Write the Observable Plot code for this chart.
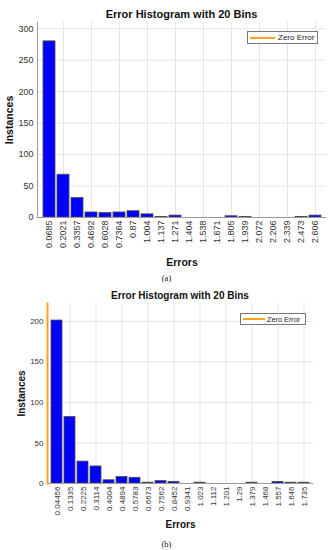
<!DOCTYPE html>
<html><head><meta charset="utf-8">
<script src="https://cdn.jsdelivr.net/npm/d3@7"></script>
<script src="https://cdn.jsdelivr.net/npm/@observablehq/plot@0.6"></script>
<style>
body{margin:0;background:#fff;}
#wrap{position:relative;width:333px;height:550px;font-family:"Liberation Sans",Arial,sans-serif;overflow:hidden;}
#wrap svg{position:absolute;left:0;}
.abs{position:absolute;}
.title{font-weight:bold;text-align:center;color:#111;white-space:nowrap;}
.cap{font-family:"Liberation Serif","Times New Roman",serif;text-align:center;width:333px;left:0;color:#111;font-size:8.5px;line-height:12px;}
.legend{background:#fff;border:1px solid #777;display:flex;align-items:center;white-space:nowrap;color:#222;box-sizing:border-box;overflow:hidden;}
.legend .ln{display:inline-block;height:2px;background:#ffa31a;flex:none;}
svg g[aria-label="x-axis label"] text, svg g[aria-label="y-axis label"] text{font-weight:bold;fill:#111;}
svg.chartA g[aria-label="x-axis label"] text, svg.chartA g[aria-label="y-axis label"] text{font-size:10.5px;}
svg.chartB g[aria-label="x-axis label"] text, svg.chartB g[aria-label="y-axis label"] text{font-size:10px;}
</style>
</head><body>
<div id="wrap"></div>
<script>
// ---- chart (a) data ----
const labelsA = ["0.0685","0.2021","0.3357","0.4692","0.6028","0.7364","0.87","1.004","1.137","1.271","1.404","1.538","1.671","1.805","1.939","2.072","2.206","2.339","2.473","2.606"];
const countsA = [280,68,31,8,7,8,10,5,1,3,0,0,0,2,1,0,0,0,1,3];
const yTicksA = [0,50,100,150,200,250,300];
// ---- chart (b) data ----
const labelsB = ["0.04456","0.1335","0.2225","0.3114","0.4004","0.4894","0.5783","0.6673","0.7562","0.8452","0.9341","1.023","1.112","1.201","1.29","1.379","1.468","1.557","1.646","1.735"];
const countsB = [201,82,27,21,4,8,7,1,3,2,0,1,0,0,0,1,0,2,1,1];
const yTicksB = [0,50,100,150,200];

const titleText = "Error Histogram with 20 Bins";
const legendText = "Zero Error";

const wrap = document.getElementById("wrap");

function hist(labels, counts, yTicks, o) {
  const data = labels.map((bin, i) => ({bin, count: counts[i]}));
  const gridBins = labels.filter((d, i) => i % 2 === 1);
  const marks = [
    Plot.gridY(yTicks, {stroke: "#e4e4e4", strokeOpacity: 1}),
    Plot.gridX(gridBins, {stroke: "#e4e4e4", strokeOpacity: 1}),
    Plot.barY(data, {x: "bin", y: "count", fill: "#0000ff", stroke: "#4d4d4d", strokeWidth: 0.8}),
    Plot.ruleY([0], {stroke: "#9a9a9a"}),
    Plot.frame({anchor: "left", stroke: "#9a9a9a"})
  ];
  if (o.zeroLine) marks.push(Plot.frame({anchor: "left", stroke: "#ffa31a", strokeWidth: 2}));
  marks.push(
    Plot.axisY(yTicks, {tickSize: 0, tickPadding: 4, label: "Instances", labelAnchor: "center", labelOffset: o.yLabelOffset, labelArrow: false}),
    Plot.axisX({tickSize: 0, tickPadding: 3, tickRotate: -90, label: "Errors", labelAnchor: "center", labelOffset: o.xLabelOffset, labelArrow: false})
  );
  return Plot.plot({
    width: 333, height: o.height,
    marginTop: o.mt, marginBottom: o.mb, marginLeft: o.ml, marginRight: o.mr,
    style: {fontFamily: '"Liberation Sans", Arial, sans-serif', fontSize: o.fs, color: "#333", background: "transparent"},
    x: {type: "band", domain: labels, paddingInner: 0.17, paddingOuter: 0.085},
    y: {domain: [0, o.ymax]},
    marks
  });
}

const svgA = hist(labelsA, countsA, yTicksA, {height: 270, mt: 22, mb: 53, ml: 37, mr: 7, fs: "9px", ymax: 310, yLabelOffset: 32, xLabelOffset: 48, zeroLine: false});
svgA.style.top = "0px";
svgA.classList.add("chartA");
wrap.appendChild(svgA);

const svgB = hist(labelsB, countsB, yTicksB, {height: 244, mt: 17, mb: 47, ml: 47, mr: 20, fs: "8px", ymax: 222, yLabelOffset: 30, xLabelOffset: 44, zeroLine: true});
svgB.style.top = "286px";
svgB.classList.add("chartB");
wrap.appendChild(svgB);

function addDiv(cls, css, text) {
  const d = document.createElement("div");
  d.className = "abs " + cls;
  Object.assign(d.style, css);
  if (text != null) d.textContent = text;
  wrap.appendChild(d);
  return d;
}
addDiv("title", {left: "37px", width: "289px", top: "7px", fontSize: "11px", lineHeight: "14px"}, titleText);
addDiv("title", {left: "47px", width: "266px", top: "290px", fontSize: "10px", lineHeight: "12px"}, titleText);
addDiv("cap", {top: "272px"}, "(a)");
addDiv("cap", {top: "538px"}, "(b)");

function legend(css, lineW, fs, gap) {
  const lg = addDiv("legend", css);
  const ln = document.createElement("span");
  ln.className = "ln";
  ln.style.width = lineW + "px";
  ln.style.marginLeft = "2px";
  lg.appendChild(ln);
  const t = document.createElement("span");
  t.textContent = legendText;
  t.style.fontSize = fs;
  t.style.marginLeft = gap + "px";
  lg.appendChild(t);
}
legend({left: "247px", top: "31px", width: "71px", height: "13px"}, 25, "8px", 3);
legend({left: "240px", top: "313px", width: "66px", height: "12px"}, 22, "7.3px", 2);
</script>
</body></html>
